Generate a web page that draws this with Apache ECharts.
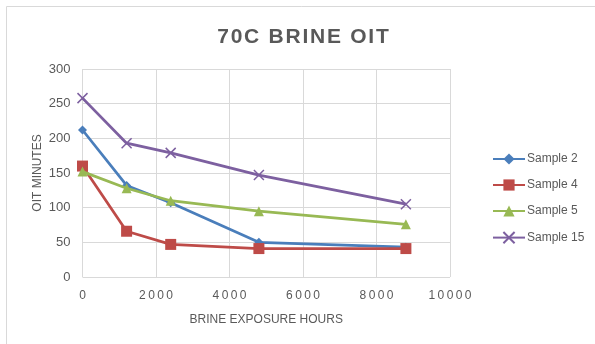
<!DOCTYPE html>
<html>
<head>
<meta charset="utf-8">
<script src="https://cdn.jsdelivr.net/npm/echarts@6/dist/echarts.min.js"></script>
<style>html,body{margin:0;padding:0;background:#fff;}#chart{width:595px;height:344px;}</style>
</head>
<body>
<div id="chart"></div>
<script>
const hours = [0, 1200, 2400, 4800, 8800];
const sample2 = [212, 132, 107, 50, 43];
const sample4 = [160, 66, 47, 41, 41];
const sample5 = [152, 128, 110, 95, 76];
const sample15 = [258, 193, 179, 147, 105];
const seriesNames = ['Sample 2', 'Sample 4', 'Sample 5', 'Sample 15'];

const gray = '#595959';
const font = 'Liberation Sans';
const colors = ['#4A7EBB', '#BE4B48', '#98B954', '#7D60A0'];
const symbols = ['diamond', 'rect', 'triangle', 'path://M0,0L10,10M10,0L0,10'];
const sizes = [9, 11, 10, 10];
const allData = [sample2, sample4, sample5, sample15];

const chart = echarts.init(document.getElementById('chart'));
chart.setOption({
  animation: false,
  title: {
    text: '70C BRINE OIT'.split('').join('\u200A'),
    left: 298, top: 22, textAlign: 'center',
    textStyle: {fontFamily: font, fontSize: 21, fontWeight: 'bold', color: gray}
  },
  graphic: [{
    type: 'rect', shape: {x: 6.5, y: 6.5, width: 620, height: 360},
    style: {fill: 'none', stroke: '#D9D9D9', lineWidth: 1}, silent: true
  }],
  legend: {
    orient: 'vertical', left: 487, top: 148, itemGap: 14,
    itemWidth: 32, itemHeight: 14,
    textStyle: {fontFamily: font, fontSize: 12, color: gray, padding: [0,0,0,-3]},
    data: seriesNames
  },
  grid: {left: 82.5, right: 145, top: 69, bottom: 67},
  xAxis: {
    type: 'value', min: 0, max: 10000, interval: 2000,
    name: 'BRINE EXPOSURE HOURS', nameLocation: 'middle', nameGap: 37,
    nameMoveOverlap: false,
    nameTextStyle: {fontFamily: font, fontSize: 12, color: gray},
    axisLine: {show: false}, axisTick: {show: false},
    axisLabel: {fontFamily: font, fontSize: 12, color: gray, margin: 13,
      formatter: v => String(v).split('').join('\u2009')},
    splitLine: {lineStyle: {color: '#D9D9D9', width: 1}}
  },
  yAxis: {
    type: 'value', min: 0, max: 300, interval: 50,
    name: 'OIT MINUTES', nameLocation: 'middle', nameGap: 39, nameRotate: 90,
    nameMoveOverlap: false,
    nameTextStyle: {fontFamily: font, fontSize: 12, color: gray},
    axisLine: {show: false}, axisTick: {show: false},
    axisLabel: {fontFamily: font, fontSize: 13, color: gray, margin: 12},
    splitLine: {lineStyle: {color: '#D9D9D9', width: 1}}
  },
  series: seriesNames.map((n, i) => ({
    name: n, type: 'line',
    data: hours.map((h, j) => [h, allData[i][j]]),
    symbol: symbols[i], symbolSize: sizes[i], showAllSymbol: true,
    lineStyle: {color: colors[i], width: 2.75},
    itemStyle: {color: colors[i], borderColor: colors[i], borderWidth: i === 3 ? 1.5 : 0, opacity: 1},
    z: 2 + i
  }))
});
</script>
</body>
</html>
